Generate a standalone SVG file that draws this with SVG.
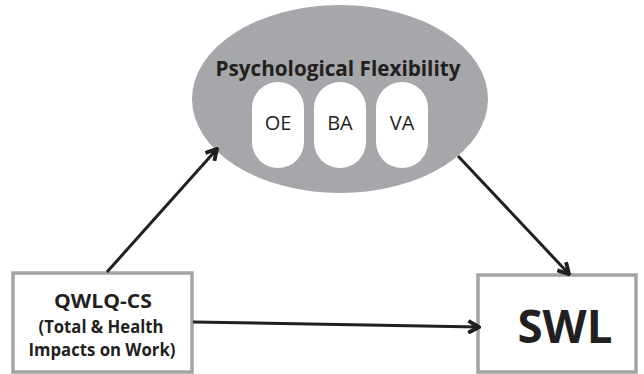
<svg xmlns="http://www.w3.org/2000/svg" width="644" height="374" viewBox="0 0 644 374">
<style>
.box{fill:#fff;stroke:#a3a3a3;stroke-width:3.5}
.pill{fill:#fff}
.t{font-family:"Open Sans","Liberation Sans",sans-serif;fill:#231f20;text-anchor:middle}
.b{font-weight:bold}
.edge{stroke:#231f20;stroke-width:3;fill:none}
</style>
<defs>
<marker id="arr" viewBox="0 0 10 10" refX="8.6" refY="5" markerWidth="5" markerHeight="5" orient="auto" markerUnits="strokeWidth">
<path d="M1.5,1 L8.6,5 L1.5,9" fill="none" stroke="#231f20" stroke-width="2.6" stroke-linecap="butt"/>
</marker>
</defs>
<rect width="644" height="374" fill="#fff"/>
<g id="pf">
<ellipse cx="340" cy="99" rx="148" ry="94" fill="#a5a7aa"/>
<text class="t b" x="338" y="76" font-size="22" textLength="245" lengthAdjust="spacingAndGlyphs">Psychological Flexibility</text>
</g>
<g id="oe"><rect class="pill" x="252" y="82" width="52" height="86" rx="26"/><text class="t" x="278" y="130" font-size="20">OE</text></g>
<g id="ba"><rect class="pill" x="314" y="82" width="52" height="86" rx="26"/><text class="t" x="340" y="130" font-size="20">BA</text></g>
<g id="va"><rect class="pill" x="376" y="82" width="52" height="86" rx="26"/><text class="t" x="402" y="130" font-size="20">VA</text></g>
<g id="qwlq">
<rect class="box" x="13" y="273" width="179" height="99"/>
<text class="t b" x="103" y="308" font-size="20" textLength="98" lengthAdjust="spacingAndGlyphs">QWLQ-CS</text>
<text class="t b" x="101" y="333" font-size="17.5" textLength="125" lengthAdjust="spacingAndGlyphs">(Total &amp; Health</text>
<text class="t b" x="102" y="356" font-size="17.5" textLength="147" lengthAdjust="spacingAndGlyphs">Impacts on Work)</text>
</g>
<g id="swl">
<rect class="box" x="478" y="275" width="158" height="97"/>
<text class="t b" x="565" y="343" font-size="47" textLength="95" lengthAdjust="spacingAndGlyphs">SWL</text>
</g>
<g id="connectors">
<line class="edge" x1="107" y1="272" x2="217" y2="149" marker-end="url(#arr)"/>
<line class="edge" x1="458" y1="156" x2="569" y2="274" marker-end="url(#arr)"/>
<line class="edge" x1="193" y1="322" x2="479" y2="327" marker-end="url(#arr)"/>
</g>
</svg>
